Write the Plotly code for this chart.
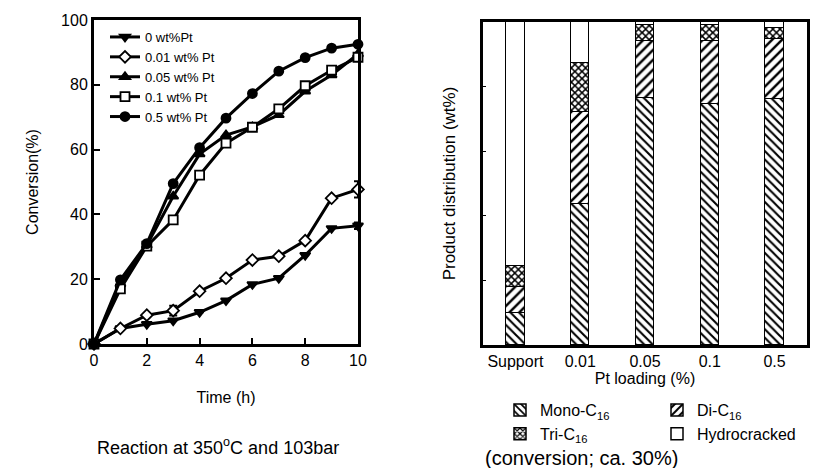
import plotly.graph_objects as go

# ---------------- data ----------------
time_h = [0, 1, 2, 3, 4, 5, 6, 7, 8, 9, 10]
conv_0 = [0, 4.8, 6.1, 7.2, 9.8, 13.4, 18.4, 20.3, 27.4, 35.7, 36.5]
conv_001 = [0, 4.8, 8.9, 10.3, 16.3, 20.3, 25.9, 27.1, 31.9, 45.0, 47.7]
conv_005 = [0, 18.5, 30.5, 45.6, 58.6, 64.5, 67.0, 70.7, 78.0, 83.0, 89.5]
conv_01 = [0, 17.0, 30.2, 38.3, 52.1, 62.0, 66.9, 72.6, 79.7, 84.5, 88.5]
conv_05 = [0, 19.8, 31.0, 49.5, 60.6, 69.7, 77.3, 84.2, 88.4, 91.3, 92.5]
err_0 = [0, 0, 0, 0, 0, 0, 0, 0, 0, 0, 1.0]
err_001 = [0, 0, 0, 1.5, 0, 0, 0, 0, 0, 0, 2.5]

series_names = ["0 wt%Pt", "0.01 wt% Pt", "0.05 wt% Pt", "0.1 wt% Pt", "0.5 wt% Pt"]

pt_loading = ["Support", "0.01", "0.05", "0.1", "0.5"]
mono_c16 = [10.0, 43.6, 76.4, 74.5, 76.3]
di_c16 = [8.0, 28.6, 17.8, 19.7, 18.4]
tri_c16 = [6.5, 15.0, 4.8, 4.8, 3.3]
hydrocracked = [75.5, 12.8, 1.0, 1.0, 2.0]

# ---------------- layout helpers ----------------
W, H = 818, 468
FONT = "Liberation Sans, Arial, sans-serif"
OFF = 8  # page body margin offset


def fx(px):
    return (px - OFF) / W


def fy(py):
    return 1 - (py - OFF) / H


fig = go.Figure()

line_styles = [
    (conv_0, "triangle-down", "black", err_0),
    (conv_001, "diamond", "white", err_001),
    (conv_005, "triangle-up", "black", None),
    (conv_01, "square", "white", None),
    (conv_05, "circle", "black", None),
]

for name, (vals, sym, fill, err) in zip(series_names, line_styles):
    kw = {}
    if err is not None:
        kw["error_y"] = dict(type="data", array=err, visible=True, color="black",
                             thickness=2, width=4)
    fig.add_trace(go.Scatter(
        x=time_h, y=vals, name=name, mode="lines+markers",
        line=dict(color="black", width=3),
        marker=dict(symbol=sym, size=9, color=fill, line=dict(color="black", width=1.8)),
        xaxis="x", yaxis="y", legend="legend", cliponaxis=False, **kw))

bar_specs = [
    ("Mono-C<sub>16</sub>", mono_c16, "\\", 6, 0.35, "legend2"),
    ("Di-C<sub>16</sub>", di_c16, "/", 7, 0.35, "legend3"),
    ("Tri-C<sub>16</sub>", tri_c16, "x", 5, 0.5, "legend2"),
    ("Hydrocracked", hydrocracked, "", 6, 0.3, "legend3"),
]
for name, vals, shape, size, sol, lg in bar_specs:
    fig.add_trace(go.Bar(
        x=pt_loading, y=vals, name=name, width=0.285,
        marker=dict(color="white", line=dict(color="black", width=1.5),
                    pattern=dict(shape=shape, size=size, solidity=sol,
                                 fgcolor="black", bgcolor="white", fillmode="replace")),
        xaxis="x2", yaxis="y2", legend=lg))

axis_common = dict(showline=True, linecolor="black", linewidth=3, mirror=True,
                   showgrid=False, zeroline=False, tickcolor="black",
                   tickfont=dict(size=16, color="black"))

fig.update_layout(
    width=W, height=H,
    margin=dict(l=0, r=0, t=0, b=0, autoexpand=False),
    paper_bgcolor="white", plot_bgcolor="white",
    font=dict(family=FONT, color="black", size=15),
    barmode="stack", bargap=0,
    showlegend=True,
    xaxis=dict(domain=[fx(94), fx(358)], range=[0, 10], tickvals=[0, 2, 4, 6, 8, 10],
               ticks="inside", ticklen=6, tickwidth=2, anchor="y",
               title=dict(text="Time (h)", font=dict(size=16), standoff=24),
               **axis_common),
    yaxis=dict(domain=[fy(344), fy(20)], range=[0, 100], tickvals=[0, 20, 40, 60, 80, 100],
               ticks="inside", ticklen=6, tickwidth=2, anchor="x",
               title=dict(text="Conversion(%)", font=dict(size=16), standoff=19),
               **axis_common),
    xaxis2=dict(domain=[fx(483), fx(807)], type="category", ticks="", anchor="y2",
                range=[-0.5, 4.5],
                title=dict(text="Pt loading (%)", font=dict(size=16), standoff=2),
                **axis_common),
    yaxis2=dict(domain=[fy(345), fy(22)], range=[0, 100], tickvals=[20, 40, 60, 80],
                ticks="inside", ticklen=3, tickwidth=1, showticklabels=False, anchor="x2",
                title=dict(text="Product distribution (wt%)", font=dict(size=17), standoff=21),
                **axis_common),
    legend=dict(x=fx(105), y=fy(22), xanchor="left", yanchor="top",
                bgcolor="rgba(0,0,0,0)", font=dict(size=13), itemwidth=30,
                tracegroupgap=0, traceorder="normal"),
    legend2=dict(x=fx(500), y=fy(393), xanchor="left", yanchor="top",
                 bgcolor="rgba(0,0,0,0)", font=dict(size=16), tracegroupgap=0,
                 traceorder="normal"),
    legend3=dict(x=fx(657), y=fy(393), xanchor="left", yanchor="top",
                 bgcolor="rgba(0,0,0,0)", font=dict(size=16), tracegroupgap=0,
                 traceorder="normal"),
    annotations=[
        dict(text="Reaction at 350<sup>o</sup>C and 103bar", x=fx(218), y=fy(446),
             xref="paper", yref="paper", showarrow=False, xanchor="center",
             yanchor="middle", font=dict(size=18)),
        dict(text="(conversion; ca. 30%)", x=fx(483), y=fy(458),
             xref="paper", yref="paper", showarrow=False, xanchor="left",
             yanchor="middle", font=dict(size=20)),
    ],
)

fig.write_html("out.html")
